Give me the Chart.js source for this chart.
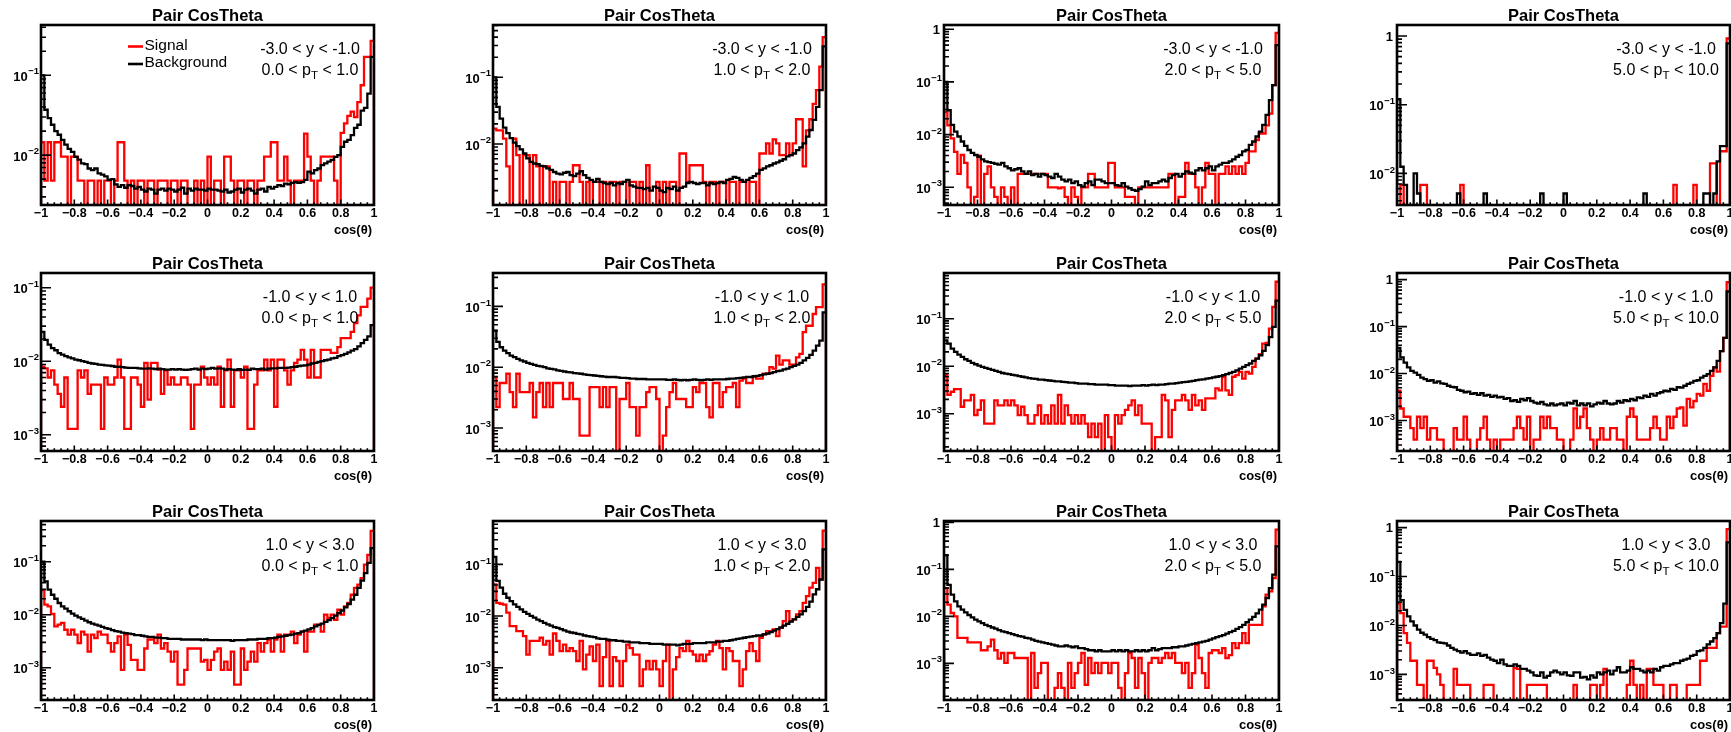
<!DOCTYPE html>
<html>
<head>
<meta charset="utf-8">
<script src="https://cdn.jsdelivr.net/npm/chart.js@4.4.1/dist/chart.umd.min.js"></script>
<style>
html, body { margin: 0; padding: 0; background: #fff; }
#page { position: relative; width: 1731px; height: 732px; overflow: hidden; background: #fff; }
#page canvas { position: absolute; }
</style>
</head>
<body>
<div id="page"></div>
<script>
const FONT = '"Liberation Sans", Arial, Helvetica, sans-serif';
const nBins = 100;

const rapidityLabels = ['-3.0 < y < -1.0', '-1.0 < y < 1.0', '1.0 < y < 3.0'];
const ptLow = ['0.0', '1.0', '2.0', '5.0'];
const ptHigh = ['1.0', '2.0', '5.0', '10.0'];
const legendLabels = ['Signal', 'Background'];

// log10 of y axis min / max for each pad
const yAxisLog = [
    [-2.625, -0.37], [-2.915, -0.216], [-3.336, 0.08], [-2.46, 0.16],
    [-3.197, -0.80], [-3.378, -0.451], [-3.785, -0.038], [-3.65, 0.142],
    [-3.61, -0.232], [-3.625, -0.16], [-3.78, 0.03], [-3.485, 0.135]
];

// -3 < y < -1
const sig1 = [.0145,.0048,.0145,.0048,.0145,.0145,.0096,.0096,0,.0096,
    .0096,.0048,.0048,0,.0048,.0048,0,.0048,0,.0048,
    .0048,0,.0048,.0145,.0145,.0048,0,.0048,0,.0048,
    .0048,0,.0048,.0048,0,.0048,.0048,.0048,0,.0048,
    .0048,0,.0048,.0048,0,0,.0048,0,.0048,0,
    .0096,0,.0048,.0048,0,.0096,.0096,.0048,0,.0048,
    .0048,0,.0048,.0048,0,.0048,.0048,.0096,.0096,.0145,
    .0145,.0048,.0048,.0096,.0048,0,.0048,.0048,.0048,.0186,
    .0096,.0048,0,.0048,.0096,.0096,.0096,.0096,.0048,0,
    .019,.025,.031,.035,.030,.046,.075,.17,.17,.27];
const bkg1 = [.10,.037,.029,.024,.020,.018,.0155,.0135,.012,.011,
    .0095,.0088,.0079,.0077,.0068,.0065,.0068,.0059,.0057,.0054,
    .0049,.0050,.0043,.0040,.0042,.0039,.0042,.0041,.0038,.0040,
    .0037,.0035,.0038,.0037,.0033,.0037,.0038,.0036,.0038,.0037,
    .0035,.0037,.0039,.0033,.0038,.0036,.0038,.0037,.0037,.0036,
    .0038,.0037,.0037,.0036,.0035,.0037,.0034,.0035,.0037,.0038,
    .0034,.0037,.0038,.0036,.0033,.0037,.0038,.0035,.0040,.0038,
    .0040,.0042,.0041,.0044,.0043,.0045,.0046,.0045,.0046,.0049,
    .0062,.0059,.0065,.0068,.0075,.0079,.0083,.0087,.0095,.010,
    .0127,.0147,.0155,.0178,.022,.024,.036,.039,.059,.17];
const sig2 = [.017,.016,.016,.012,.0046,0,.012,.0068,0,.0068,
    .0068,0,.0068,.0046,0,.0046,.0046,0,.0027,0,
    .0027,.0027,0,.0027,.0048,.0048,.0027,0,.0027,0,
    .0027,.0027,0,.0027,0,.0027,.0027,0,.0027,.0027,
    0,.0027,.0027,0,.0027,0,.0048,0,0,.0027,
    0,.0027,0,.0027,.0027,0,.0072,.0072,.0027,.0048,
    .0048,.0048,.0048,.0027,0,.0027,.0027,0,.0027,.0027,
    0,.0027,.0027,0,.0027,.0027,0,.0027,.0027,0,
    .0072,.0072,.0102,.0072,.0117,.0102,.0068,.0068,.0102,.0068,
    .0102,.0235,.0235,.0046,.016,.0235,.040,.064,.144,.40];
const bkg2 = [.10,.036,.024,.0176,.0145,.0122,.0105,.0093,.0083,.0072,
    .0061,.0054,.0051,.0050,.0047,.0046,.0043,.0041,.0038,.0036,
    .0035,.0037,.0038,.0034,.0033,.0036,.0039,.0034,.0031,.0029,
    .0027,.0030,.0027,.0026,.0025,.0026,.0024,.0026,.0025,.0027,
    .0029,.0024,.0023,.0022,.0022,.0021,.0022,.0020,.0023,.0022,
    .0020,.0019,.0022,.0021,.0023,.0020,.0022,.0023,.0026,.0027,
    .0026,.0025,.0026,.0026,.0024,.0026,.0025,.0026,.0027,.0026,
    .0029,.0030,.0032,.0031,.0029,.0027,.0029,.0031,.0033,.0036,
    .0041,.0043,.0046,.0048,.0051,.0053,.0056,.0059,.0065,.0068,
    .0072,.0081,.0089,.0102,.0129,.0162,.023,.036,.064,.29];
const sig3 = [.027,.015,.0085,.0047,.0018,.0041,.0029,.001,0,.00066,
    .004,0,.0018,.0025,.001,.00066,0,.001,.00066,0,
    .001,0,.0018,.0018,.0018,.0018,.0018,.0018,.0018,.0018,
    .0018,.001,.001,.001,.00096,.001,.00066,0,.001,.00066,
    0,.001,.001,.0018,.0018,.001,.001,.001,.001,.0029,
    .0029,.001,.001,.001,.00066,.00066,.00066,0,.001,.001,
    .001,.001,.001,.001,.001,.001,.001,.0018,.0018,0,
    .00066,.00066,.0029,.0018,.0018,.001,0,.001,.0029,.0018,
    .0018,0,.0018,.0018,.0025,.0018,.0025,.0018,.0025,.0018,
    .0029,.0048,.0048,.0079,.0105,.0105,.015,.025,.087,.85];
const bkg3 = [.10,.029,.0153,.0114,.0092,.0074,.0061,.0051,.0045,.0041,
    .0038,.0034,.0031,.0030,.0029,.0028,.0027,.0029,.0025,.0023,
    .0021,.0022,.0023,.0020,.0018,.0020,.0017,.0018,.0016,.0018,
    .0017,.0016,.0015,.0018,.0016,.0014,.0013,.0014,.0012,.0013,
    .0011,.00103,.0012,.0013,.0011,.0014,.0014,.0013,.0012,.0012,
    .0012,.0011,.00106,.0012,.00103,.00096,.00089,.00086,.00092,.00103,
    .0013,.0011,.0012,.0012,.0013,.0014,.0013,.0015,.0017,.0018,
    .0016,.0018,.0020,.0019,.0018,.0021,.0023,.0021,.0023,.0025,
    .0021,.0025,.0027,.0029,.0029,.0031,.0034,.0038,.0041,.0048,
    .0051,.0064,.0074,.0092,.0114,.0153,.0236,.045,.087,.50];
const sig4 = [0,.0068,0,0,0,0,0,.0068,.0068,0,
    0,0,0,0,0,0,0,0,0,.0068,
    0,0,0,0,0,0,0,0,0,0,
    0,0,0,0,0,0,0,0,0,0,
    0,0,0,0,0,0,0,0,0,0,
    0,0,0,0,0,0,0,0,0,0,
    0,0,0,0,0,0,0,0,0,0,
    0,0,0,0,0,0,0,0,0,0,
    0,0,0,.0068,0,0,0,0,0,.0068,
    0,0,0,0,.014,.014,0,.021,.021,.92];
const bkg4 = [.12,.0125,.0068,0,0,.010,.0051,0,0,0,
    0,0,0,0,0,0,0,0,.0051,0,
    0,0,0,0,0,0,.0051,0,0,0,
    0,0,0,0,0,0,0,0,0,0,
    0,0,0,.0051,0,0,0,0,0,0,
    .0051,0,0,0,0,0,0,0,0,0,
    0,0,0,0,0,0,0,0,0,0,
    0,0,0,0,.0051,0,0,0,0,0,
    0,0,0,0,0,0,0,0,0,0,
    0,0,.0051,.0051,0,.0051,.015,.025,.025,.78];

// -1 < y < 1
const sig5 = [.0084,.0080,.006,.0075,.0048,.0036,.0024,.006,.0012,.0012,
    .0012,.0075,.006,.0075,.0036,.0048,.0048,.0048,.0012,.006,
    .0048,.0048,.006,.0105,.006,.0012,.0012,.006,.006,.0048,
    .0024,.0095,.003,.0095,.0095,.0077,.0036,.0075,.0048,.006,
    .0048,.0048,.006,.006,.0048,.0012,.0048,.0048,.0084,.006,
    .0048,.006,.0048,.0084,.0024,.0075,.0105,.0024,.0075,.0075,
    .006,.0084,.0012,.0012,.0048,.0075,.0075,.0105,.0075,.0105,
    .0024,.0105,.0105,.0075,.0048,.0075,.0095,.0105,.0143,.0105,
    .006,.0143,.006,.006,.0143,.0143,.0143,.013,.013,.0155,
    .0206,.0206,.0206,.025,.033,.042,.055,.055,.071,.10];
const bkg5 = [.025,.0195,.0168,.0151,.0141,.0129,.0123,.0117,.0113,.0109,
    .0105,.0103,.0100,.0098,.0095,.0093,.0092,.0090,.0089,.0088,
    .0087,.0086,.0084,.0084,.0083,.0082,.0081,.0081,.0081,.0080,
    .0079,.0079,.0080,.0079,.0078,.0079,.0078,.0077,.0077,.0078,
    .0077,.0078,.0077,.0076,.0077,.0078,.0079,.0077,.0079,.0078,
    .0079,.0081,.0079,.0080,.0079,.0077,.0078,.0077,.0076,.0078,
    .0076,.0077,.0076,.0079,.0078,.0078,.0079,.0077,.0079,.0080,
    .0080,.0081,.0081,.0081,.0082,.0083,.0084,.0086,.0087,.0088,
    .0090,.0093,.0095,.0098,.0100,.0103,.0105,.0109,.0111,.0117,
    .0121,.0126,.0132,.0139,.0146,.0159,.0176,.0195,.0217,.031];
const sig6 = [.0068,.0022,.0055,.0055,.0078,.0039,.0022,.0078,.0039,.0039,
    .0039,.0055,.0015,.0039,.0055,.0022,.0055,.0022,.0055,.0055,
    .0055,.003,.003,.0055,.003,.003,.00075,.00075,.00075,.0047,
    .0047,.0047,.0022,.0047,.0022,.0047,.0047,0,.003,.003,
    .0055,.0022,.0022,.00075,.0022,.0022,.0039,.0047,.0047,.003,
    0,.00075,.0022,.0039,.0055,.003,.003,.003,.0022,.0022,
    .0047,.0039,.0055,.0055,.0022,.0015,.0055,.0055,.0022,.0039,
    .0047,.0047,.0055,.0022,.006,.0065,.0055,.0055,.007,.0065,
    .0065,.0078,.0078,.010,.0095,.0155,.011,.0129,.0129,.011,
    .011,.0145,.0165,.0376,.048,.048,.075,.097,.097,.23];
const bkg6 = [.040,.026,.0213,.0188,.0170,.0155,.0146,.0137,.0129,.0124,
    .0118,.0113,.0109,.0105,.0103,.0100,.0096,.0094,.0092,.0089,
    .0087,.0085,.0083,.0082,.0080,.0079,.0078,.0076,.0075,.0074,
    .0073,.0072,.0071,.0070,.0069,.0069,.0069,.0068,.0067,.0067,
    .0066,.0065,.0065,.0064,.0064,.0064,.0063,.0063,.0063,.0063,
    .0063,.0063,.0062,.0062,.0063,.0062,.0061,.0062,.0061,.0062,
    .0063,.0062,.0061,.0062,.0063,.0062,.0063,.0063,.0063,.0063,
    .0064,.0065,.0065,.0066,.0067,.0068,.0069,.0069,.0071,.0072,
    .0074,.0076,.0078,.0080,.0083,.0086,.0088,.0092,.0095,.0100,
    .0105,.0110,.0118,.0129,.0142,.0159,.0188,.0227,.0274,.080];
const sig7 = [.0065,.0025,.0029,.0033,.0033,.0014,.0019,.0019,.0025,.00093,
    .0012,.0019,.00062,.00062,.00062,.0019,.0015,.0015,.0019,.0015,
    .0019,.0015,.00093,.0014,.00093,.00062,.00062,.00093,.0015,.00062,
    .00093,.00062,.0015,.00062,.0025,.00062,.0015,.00093,.00062,.00093,
    .00062,.00093,.00062,.00032,.00062,.00032,.00062,0,.00093,.00032,
    0,.00093,.00062,.00093,.0012,.0015,.0019,.00093,.0015,.00062,
    .00062,.00062,0,.00032,.00032,.0025,.0019,.00032,.0012,.0019,
    .0019,.0025,.0019,.0012,.0025,.0015,.0019,.0012,.0021,.0021,
    .0021,.0034,.0031,.0060,.0031,.0025,.0060,.0065,.0076,.0055,
    .0076,.0070,.0097,.0145,.018,.030,.031,.062,.178,.60];
const bkg7 = [.035,.030,.0235,.020,.0176,.0157,.0140,.0130,.0118,.0110,
    .0103,.0097,.0092,.0088,.0084,.0080,.0076,.0072,.0070,.0068,
    .0066,.0064,.0062,.0060,.0058,.0056,.0055,.0054,.0052,.0052,
    .0051,.0050,.0049,.0048,.0048,.0047,.0046,.0045,.0045,.0044,
    .0043,.0043,.0043,.0042,.0042,.0041,.0041,.0041,.0041,.0040,
    .0040,.0039,.0039,.0039,.0039,.0038,.0039,.0039,.0039,.0040,
    .0039,.0040,.0041,.0040,.0041,.0041,.0042,.0043,.0043,.0044,
    .0045,.0046,.0047,.0048,.0049,.0051,.0052,.0053,.0055,.0056,
    .0058,.0060,.0062,.0065,.0068,.0072,.0076,.0082,.0089,.0097,
    .0105,.0114,.0130,.0145,.0170,.0210,.0277,.041,.067,.24];
const sig8 = [.0043,.0018,.0012,.0012,.00069,.00039,.0012,.00069,.0012,.00039,
    .00069,.00069,.00039,.00039,0,0,0,.00069,.00039,.00039,
    .0012,.00039,0,0,.00039,.00069,.0012,.00039,0,.00039,
    0,.00039,.00039,.00039,.00039,.00069,.0012,.00069,.00039,.0012,
    0,.00039,.00039,.0012,.00069,.0012,.00069,.00069,.00039,.00039,
    0,0,.00039,.0018,.00069,.0012,.0018,.00069,.00039,0,
    .00039,.00069,.00039,.00039,.00069,.00069,.00039,.00039,0,.0012,
    .0018,.0012,.00039,.00039,.00039,.00039,.00069,.0012,.00069,.00039,
    .00039,.0012,.00069,.0012,.0018,.0019,.00078,.0029,.0019,.0026,
    .0037,.0034,.0060,.0043,.0089,.0135,.011,.030,.0575,.88];
const bkg8 = [.035,.022,.0171,.0135,.0114,.0105,.0094,.0082,.0076,.0070,
    .0072,.0064,.0068,.0062,.0060,.0055,.0052,.0051,.0045,.0043,
    .0040,.0041,.0037,.0038,.0035,.0038,.0034,.0035,.0032,.0034,
    .0031,.0032,.0029,.0030,.0026,.0027,.0025,.0029,.0027,.0030,
    .0026,.0024,.0023,.0025,.0022,.0021,.0023,.0021,.0022,.0023,
    .0021,.0024,.0023,.0026,.0021,.0023,.0021,.0023,.0020,.0022,
    .0024,.0023,.0026,.0023,.0022,.0023,.0026,.0024,.0027,.0026,
    .0029,.0027,.0031,.0030,.0034,.0032,.0037,.0034,.0038,.0040,
    .0043,.0042,.0047,.0045,.0051,.0050,.0055,.0060,.0064,.0070,
    .0072,.0082,.0089,.0097,.0114,.0135,.0186,.030,.0575,.56];

// 1 < y < 3
const sig9 = [.029,.0155,.0144,.0103,.0060,.0065,.0070,.0052,.0042,.0052,
    .0042,.0029,.0048,.0042,.0020,.0042,.0036,.0048,.0042,.0042,
    .0029,.0020,.0029,.0039,.00091,.0042,.0027,.0014,.0014,.00091,
    .00091,.0023,.0034,.0034,.0029,.0042,.0023,.0029,.0020,.0013,
    .0020,.00048,.00048,.00091,.0023,.0023,.0023,.0023,.0013,.0014,
    .00091,.0014,.0020,.0023,.00091,.0013,.00091,.0020,.00048,.00048,
    .0023,.00091,.0013,.0020,.0013,.0029,.0020,.0029,.0034,.0020,
    .0034,.0042,.0020,.0042,.0042,.0048,.0029,.0042,.0048,.0020,
    .0048,.0048,.0065,.0065,.0048,.010,.0087,.010,.008,.0124,
    .010,.0144,.0166,.0238,.032,.037,.049,.088,.135,.38];
const bkg9 = [.10,.0425,.0296,.0238,.020,.0166,.0144,.013,.0116,.0105,
    .0096,.0089,.0083,.0077,.0072,.0068,.0065,.0062,.0059,.0056,
    .0054,.0051,.0049,.0048,.0046,.0045,.0044,.0043,.0041,.0041,
    .0040,.0039,.0038,.0038,.0037,.0037,.0036,.0036,.0035,.0035,
    .0035,.0035,.0034,.0034,.0034,.0034,.0034,.0034,.0033,.0034,
    .0033,.0033,.0033,.0033,.0033,.0033,.0033,.0032,.0033,.0033,
    .0033,.0033,.0034,.0034,.0034,.0035,.0035,.0035,.0036,.0036,
    .0037,.0038,.0039,.0040,.0041,.0042,.0044,.0045,.0048,.0050,
    .0053,.0056,.0060,.0064,.0068,.0073,.0079,.0086,.0096,.0107,
    .012,.0137,.0159,.0192,.0238,.032,.044,.061,.095,.18];
const sig10 = [.041,.018,.0173,.0167,.0116,.0064,.0064,.0051,.0051,.0041,
    .0018,.0033,.0033,.0033,.0038,.0028,.0033,.0018,.0046,.0033,
    .0021,.0028,.0021,.0024,.0021,.00135,.0033,.00093,.0018,.0026,
    .00135,.0028,.00044,.0016,.0033,.00044,.0016,.00135,.00044,.00135,
    .0028,.0024,.0018,.0018,.00044,.00093,.00135,.00093,.00135,.00093,
    .00044,.00135,.0028,0,.00093,.0016,.0024,.0021,.0033,.0021,
    .0018,.00135,.0018,.00135,.0018,.0021,.0028,.0033,.0024,.00093,
    .0024,.0021,.00135,.00135,.00044,.00093,.0021,.003,.0021,.00135,
    .0038,.0044,.0051,.0051,.0055,.0041,.0059,.008,.0125,.008,
    .0086,.0108,.0125,.018,.0244,.0354,.044,.086,.051,.45];
const bkg10 = [.14,.048,.0354,.027,.0226,.0195,.0169,.015,.0135,.0121,
    .011,.0101,.0093,.0085,.008,.0074,.0069,.0065,.0061,.0059,
    .0056,.0053,.0050,.0048,.0047,.0045,.0044,.0042,.0041,.0040,
    .0039,.0037,.0036,.0036,.0035,.0034,.0034,.0033,.0033,.0032,
    .0032,.0031,.0031,.0031,.0030,.0030,.0030,.0029,.0029,.0029,
    .0029,.0028,.0028,.0028,.0028,.0027,.0028,.0029,.0029,.0029,
    .0030,.0030,.0030,.0030,.0031,.0031,.0031,.0032,.0032,.0033,
    .0033,.0034,.0035,.0036,.0037,.0038,.0039,.0040,.0041,.0042,
    .0042,.0044,.0046,.0049,.0052,.0056,.0060,.0065,.0071,.0078,
    .0086,.0096,.0108,.0125,.0150,.0190,.0263,.033,.051,.195];
const sig11 = [.040,.0177,.0118,.010,.0035,.0035,.0035,.0028,.0028,.0028,
    .0028,.0019,.0019,.0023,.0032,.0019,.00126,.00166,.00102,.00166,
    .00166,.0013,.0013,.0013,.0013,0,.00166,.0003,.00062,.00102,
    .00102,0,0,.0003,.00062,.0003,0,.00102,.0003,.00062,
    .00102,.00166,.00035,.0013,.00062,.00102,.00062,.00102,.00102,.00062,
    .00102,.00102,.0003,0,.00062,.00166,.0013,.0003,.0013,.00062,
    0,.00102,.0013,.0013,.00102,.0013,.00166,.0013,.00166,.00102,
    .00102,.00062,.00102,.0003,.00062,.0025,.0013,.00062,.0003,.00166,
    .0019,.0019,.00166,.0021,.0013,.0015,.0027,.0021,.0027,.0044,
    .0027,.0066,.0066,.0066,.0066,.0163,.029,.034,.065,.70];
const bkg11 = [.20,.047,.0289,.0209,.0163,.0139,.0122,.0107,.0095,.0085,
    .0078,.0072,.0066,.0062,.0058,.0055,.0051,.0048,.0046,.0044,
    .0042,.0040,.0038,.0037,.0035,.0034,.0032,.0030,.0029,.0028,
    .0027,.0026,.0025,.0024,.0023,.0023,.0024,.0023,.0022,.0023,
    .0021,.0021,.0020,.0019,.0019,.0018,.0019,.0018,.0018,.0018,
    .0019,.0018,.0019,.0018,.0019,.0018,.0018,.0019,.0018,.0019,
    .0018,.0019,.0021,.0019,.0020,.0021,.0021,.0021,.0022,.0022,
    .0023,.0023,.0024,.0025,.0026,.0027,.0028,.0029,.0030,.0032,
    .0034,.0036,.0038,.0040,.0043,.0046,.0049,.0054,.0059,.0066,
    .0075,.0085,.0098,.0116,.0139,.0177,.0246,.040,.077,.31];
const sig12 = [.028,.0178,.007,.0044,.0019,.0019,.00061,.00061,0,.0019,
    .0019,.00136,.001,.00061,0,0,0,.0013,.00061,.00061,
    .00061,.00061,0,0,0,0,.00061,.00061,.00061,0,
    0,0,0,0,0,.00136,.0013,0,0,.00061,
    .00061,.00061,.00061,.00061,.00061,0,0,0,0,0,
    0,0,0,.00061,0,0,0,0,.00061,.00061,
    0,.00061,.0013,0,0,0,0,0,0,.00061,
    .0019,.00061,0,.00061,0,.0013,.0013,.00061,.00061,.00061,
    0,0,.00061,.00061,0,0,0,.00061,.00061,.00061,
    .00061,.0019,.0019,.0035,.0035,.0035,.007,.0095,.0095,.93];
const bkg12 = [.20,.033,.0208,.0153,.0121,.010,.0082,.0071,.0065,.0058,
    .0053,.0050,.0045,.0044,.0043,.0039,.0035,.0032,.0030,.0028,
    .0030,.0027,.0025,.0025,.0027,.0024,.0025,.0022,.0020,.0019,
    .0017,.0020,.0016,.0015,.0015,.0016,.0015,.0013,.0013,.0012,
    .0011,.00096,.00093,.0011,.00086,.00093,.0011,.0012,.0011,.0010,
    .0011,.00096,.00093,.0011,.0011,.00086,.00089,.00079,.00096,.00086,
    .0011,.0010,.0011,.0012,.0010,.0012,.0014,.0011,.0011,.0012,
    .0014,.0013,.0013,.0012,.0011,.0012,.0011,.0013,.0012,.0014,
    .0015,.0015,.0016,.0017,.0017,.0019,.0020,.0021,.0024,.0025,
    .0030,.0031,.0035,.0041,.0047,.0055,.0070,.0112,.028,.50];

const signal = [sig1, sig2, sig3, sig4, sig5, sig6, sig7, sig8, sig9, sig10, sig11, sig12];
const background = [bkg1, bkg2, bkg3, bkg4, bkg5, bkg6, bkg7, bkg8, bkg9, bkg10, bkg11, bkg12];

// frame edges of each pad on the page
const colFrames = [[41, 374], [493, 826], [944, 1279], [1397, 1730]];
const rowFrames = [[25, 205], [273, 451], [521, 700]];
const padLeft = 41, padTop = 25, padBottom = 36;

function histPoints(values, floor) {
    const pts = [{ x: -1, y: floor }];
    values.forEach((v, i) => pts.push({ x: -1 + 2 * i / nBins, y: v > 0 ? v : floor }));
    const last = values[nBins - 1];
    pts.push({ x: 1, y: last > 0 ? last : floor });
    pts.push({ x: 1, y: floor });
    return pts;
}

function xTickLabel(v) {
    const r = Math.round(v * 10) / 10;
    if (r === 0) return '0';
    const s = Math.abs(r) === 1 ? '1' : Math.abs(r).toFixed(1);
    return (r < 0 ? '\u2212' : '') + s;
}

function drawPtLine(ctx, cx, cy, lo, hi) {
    const a = lo + ' < p', b = ' < ' + hi;
    ctx.font = '16px ' + FONT;
    const wa = ctx.measureText(a).width, wb = ctx.measureText(b).width;
    ctx.font = '11.5px ' + FONT;
    const wt = ctx.measureText('T').width;
    const x0 = cx - (wa + wt + wb) / 2;
    ctx.textAlign = 'left';
    ctx.font = '16px ' + FONT;
    ctx.fillText(a, x0, cy);
    ctx.font = '11.5px ' + FONT;
    ctx.fillText('T', x0 + wa, cy + 5.5);
    ctx.font = '16px ' + FONT;
    ctx.fillText(b, x0 + wa + wt, cy);
}

// ROOT style pad: frame, inward ticks, title, labels
const rootPad = {
    id: 'rootPad',
    afterDatasetsDraw(chart, args, opts) {
        const { ctx, chartArea: a } = chart;
        const xs = chart.scales.x, ys = chart.scales.y;
        ctx.save();
        ctx.fillStyle = '#000';
        ctx.strokeStyle = '#000';

        ctx.lineWidth = 1.6;
        ctx.beginPath();
        for (let i = 0; i <= 50; i++) {
            const px = xs.getPixelForValue(-1 + i * 0.04);
            const len = i % 5 === 0 ? 5.5 : 2.8;
            ctx.moveTo(px, a.bottom);
            ctx.lineTo(px, a.bottom - len);
        }
        const lo = Math.log10(ys.min), hi = Math.log10(ys.max);
        for (let d = Math.floor(lo); d <= Math.floor(hi); d++) {
            for (let k = 1; k <= 9; k++) {
                const v = k * Math.pow(10, d);
                if (v < ys.min || v > ys.max) continue;
                const py = ys.getPixelForValue(v);
                ctx.moveTo(a.left, py);
                ctx.lineTo(a.left + (k === 1 ? 10 : 5), py);
            }
        }
        ctx.stroke();

        ctx.lineWidth = 2.6;
        ctx.strokeRect(a.left, a.top, a.right - a.left, a.bottom - a.top);

        // y labels
        ctx.textBaseline = 'middle';
        ctx.textAlign = 'right';
        for (let d = Math.ceil(lo - 1e-9); d <= Math.floor(hi + 1e-9); d++) {
            const py = ys.getPixelForValue(Math.pow(10, d));
            if (d === 0) {
                ctx.font = 'bold 13px ' + FONT;
                ctx.fillText('1', a.left - 4, py + 1);
            } else {
                const sup = '\u2212' + Math.abs(d);
                ctx.font = 'bold 9.5px ' + FONT;
                const sw = ctx.measureText(sup).width;
                ctx.fillText(sup, a.left - 2, py - 3.5);
                ctx.font = 'bold 13px ' + FONT;
                ctx.fillText('10', a.left - 2.5 - sw, py + 2);
            }
        }

        // title and axis title
        ctx.textAlign = 'center';
        ctx.font = 'bold 16.5px ' + FONT;
        ctx.fillText(opts.title, (a.left + a.right) / 2, a.top - 9);
        ctx.textAlign = 'right';
        ctx.font = 'bold 13px ' + FONT;
        ctx.fillText('cos(\u03b8)', a.right - 2, a.bottom + 25);

        // bin text
        const cx = a.left + 269;
        ctx.textAlign = 'center';
        ctx.font = '16px ' + FONT;
        ctx.fillText(opts.rapidity, cx, a.top + 25);
        drawPtLine(ctx, cx, a.top + 45.5, opts.ptLo, opts.ptHi);

        if (opts.legend) {
            const colors = ['#ff0000', '#000000'];
            legendLabels.forEach((lab, i) => {
                const ly = a.top + 21.5 + i * 17.5;
                ctx.strokeStyle = colors[i];
                ctx.lineWidth = 2.6;
                ctx.beginPath();
                ctx.moveTo(a.left + 87, ly);
                ctx.lineTo(a.left + 102, ly);
                ctx.stroke();
                ctx.textAlign = 'left';
                ctx.font = '15.5px ' + FONT;
                ctx.fillText(lab, a.left + 103.5, ly - 1);
            });
        }
        ctx.restore();
    }
};

const page = document.getElementById('page');

for (let k = 0; k < 12; k++) {
    const row = Math.floor(k / 4), col = k % 4;
    const [fl, fr] = colFrames[col];
    const [ft, fb] = rowFrames[row];
    const padRight = Math.min(20, 1731 - fr);
    const w = fr - fl + padLeft + padRight;
    const h = fb - ft + padTop + padBottom;

    const canvas = document.createElement('canvas');
    canvas.width = w;
    canvas.height = h;
    canvas.style.left = (fl - padLeft) + 'px';
    canvas.style.top = (ft - padTop) + 'px';
    canvas.style.width = w + 'px';
    canvas.style.height = h + 'px';
    page.appendChild(canvas);

    const yMin = Math.pow(10, yAxisLog[k][0]);
    const yMax = Math.pow(10, yAxisLog[k][1]);
    const floor = yMin / 100;

    new Chart(canvas, {
        type: 'line',
        data: {
            datasets: [{
                label: legendLabels[1],
                data: histPoints(background[k], floor),
                borderColor: '#000000',
                borderWidth: 2.3,
                stepped: true,
                pointRadius: 0,
                fill: false,
            },
            {
                label: legendLabels[0],
                data: histPoints(signal[k], floor),
                borderColor: '#ff0000',
                borderWidth: 2.3,
                stepped: true,
                pointRadius: 0,
                fill: false,
            }]
        },
        options: {
            responsive: false,
            animation: false,
            devicePixelRatio: 1,
            layout: {
                padding: { top: padTop, right: padRight, left: 0, bottom: 0 }
            },
            plugins: {
                legend: { display: false },
                tooltip: { enabled: false },
                rootPad: {
                    title: 'Pair CosTheta',
                    rapidity: rapidityLabels[row],
                    ptLo: ptLow[col],
                    ptHi: ptHigh[col],
                    legend: k === 0
                }
            },
            scales: {
                x: {
                    type: 'linear',
                    min: -1,
                    max: 1,
                    grid: { display: false, drawTicks: false },
                    border: { display: false },
                    ticks: {
                        stepSize: 0.2,
                        autoSkip: false,
                        maxRotation: 0,
                        padding: 1.5,
                        color: '#000',
                        font: { family: FONT, size: 12.5, weight: 'bold' },
                        callback: xTickLabel
                    },
                    afterFit(scale) {
                        scale.height = padBottom;
                        scale.paddingLeft = 0;
                        scale.paddingRight = 0;
                    }
                },
                y: {
                    type: 'logarithmic',
                    min: yMin,
                    max: yMax,
                    grid: { display: false, drawTicks: false },
                    border: { display: false },
                    ticks: { display: false },
                    afterFit(scale) {
                        scale.width = padLeft;
                        scale.paddingTop = 0;
                        scale.paddingBottom = 0;
                    }
                }
            }
        },
        plugins: [rootPad]
    });
}
</script>
</body>
</html>
